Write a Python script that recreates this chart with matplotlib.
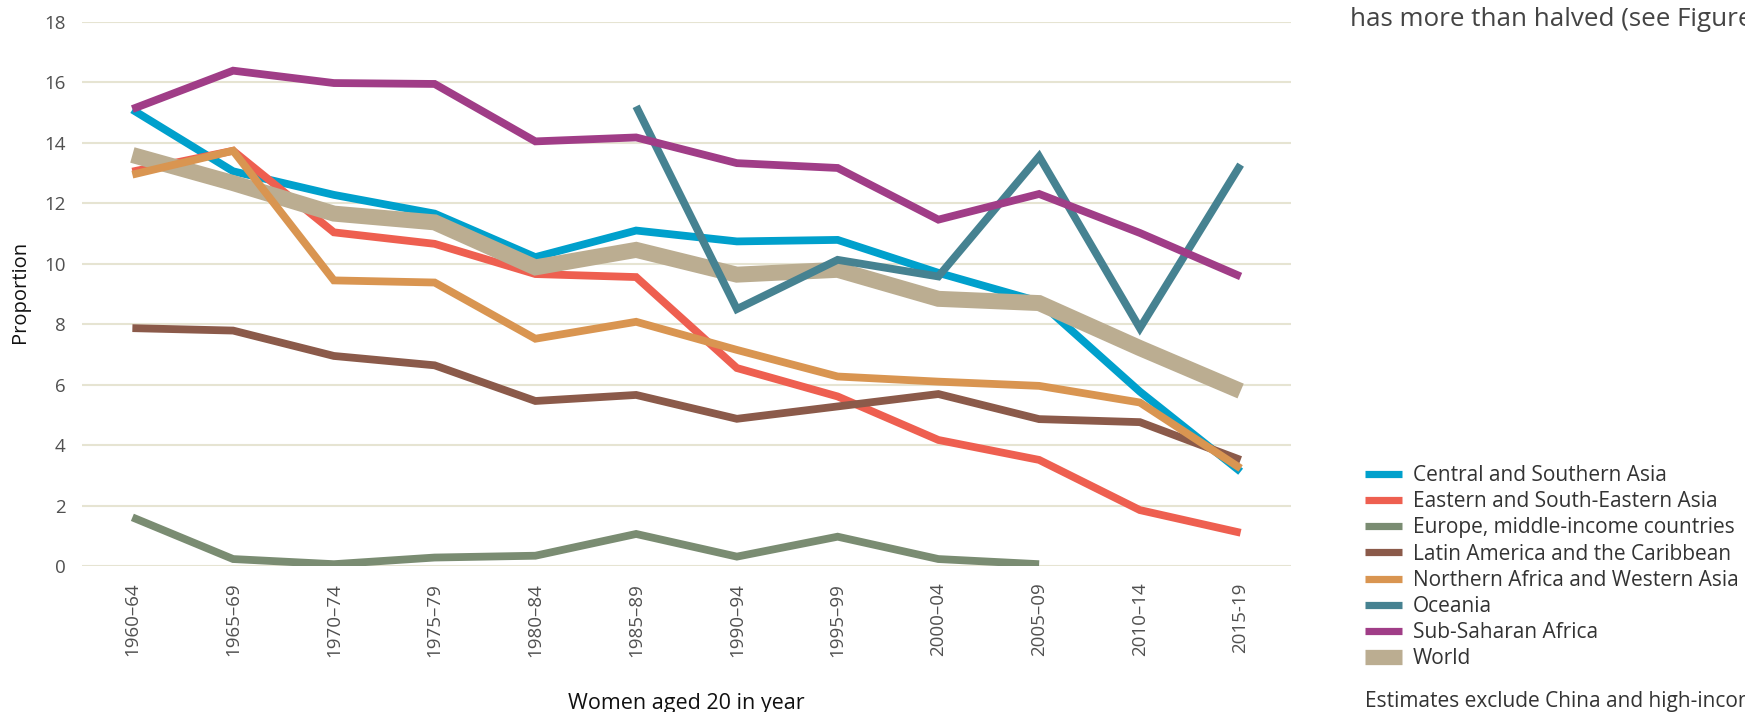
import numpy as np
import matplotlib
matplotlib.use("Agg")
import matplotlib.pyplot as plt

periods = ["1960–64", "1965–69", "1970–74", "1975–79", "1980–84", "1985–89",
           "1990–94", "1995–99", "2000–04", "2005–09", "2010–14", "2015-19"]

central_southern_asia = [15.1, 13.06, 12.28, 11.66, 10.22, 11.1, 10.74, 10.79, 9.7, 8.75, 5.77, 3.12]
eastern_se_asia = [13.05, 13.74, 11.04, 10.66, 9.66, 9.56, 6.55, 5.61, 4.17, 3.51, 1.85, 1.10]
europe_middle = [1.61, 0.23, 0.06, 0.28, 0.34, 1.06, 0.31, 0.97, 0.23, 0.06, np.nan, np.nan]
latin_america = [7.87, 7.79, 6.95, 6.64, 5.46, 5.66, 4.87, 5.28, 5.69, 4.86, 4.76, 3.51]
n_africa_w_asia = [12.95, 13.74, 9.45, 9.38, 7.52, 8.08, 7.15, 6.27, 6.1, 5.96, 5.41, 3.23]
oceania = [np.nan, np.nan, np.nan, np.nan, np.nan, 15.21, 8.5, 10.13, 9.58, 13.55, 7.87, 13.28]
sub_saharan = [15.12, 16.39, 15.98, 15.95, 14.05, 14.18, 13.33, 13.17, 11.46, 12.31, 11.02, 9.58]
world = [13.6, 12.67, 11.66, 11.37, 9.88, 10.46, 9.64, 9.8, 8.84, 8.7, 7.21, 5.79]

series_names = ["Central and Southern Asia", "Eastern and South-Eastern Asia",
                "Europe, middle-income countries", "Latin America and the Caribbean",
                "Northern Africa and Western Asia", "Oceania", "Sub-Saharan Africa", "World"]
series_values = [central_southern_asia, eastern_se_asia, europe_middle, latin_america,
                 n_africa_w_asia, oceania, sub_saharan, world]
colors = ["#00A0CC", "#EE5F50", "#7A8C72", "#8B5A4A", "#D99551", "#468291", "#A03D87", "#BBAD91"]
zorders = [2.0, 2.1, 2.4, 2.4, 2.4, 2.4, 2.4, 2.2]

plt.rcParams['font.family'] = ['Open Sans', 'DejaVu Sans']

fig = plt.figure(figsize=(17.45, 7.12), dpi=100)
ax = fig.add_axes([82/1745, 1-566/712, (1291-82)/1745, (566-22)/712])

x = np.arange(len(periods))
handles = []
for name, vals, c, z in zip(series_names, series_values, colors, zorders):
    lw = 11.5 if name == "World" else 5.6
    h, = ax.plot(x, vals, color=c, lw=lw, solid_joinstyle='miter', solid_capstyle='butt',
                 label=name, zorder=z)
    handles.append(h)

ax.set_xlim(-0.5, 11.5)
ax.set_ylim(0, 18)
ax.set_yticks(np.arange(0, 19, 2))
ax.set_xticks(x)
ax.set_xticklabels(periods, rotation=90, va='top', ha='center')
ax.tick_params(axis='both', length=0, labelsize=13.5, colors='#505050')
ax.tick_params(axis='y', pad=12)
ax.tick_params(axis='x', pad=12)
for s in ax.spines.values():
    s.set_visible(False)
ax.grid(axis='y', color='#E6E4D2', lw=1.5, zorder=0)
ax.set_axisbelow(True)

fig.text(20/1745, 1-292/712, "Proportion", rotation=90, ha='center', va='center',
         fontsize=14.5, color='#111111')
fig.text(686/1745, 1-703/712, "Women aged 20 in year", ha='center', va='center',
         fontsize=15.5, color='#111111')

leg = fig.legend(handles=handles, loc='upper left', bbox_to_anchor=(1365/1745, 1-465/712),
                 frameon=False, fontsize=15, handlelength=1.78, handletextpad=0.53,
                 labelspacing=0.25, borderaxespad=0, borderpad=0)
for t in leg.get_texts():
    t.set_color('#333333')
for lh, h in zip(leg.get_lines(), handles):
    lh.set_linewidth(11 if h.get_label() == "World" else 5.2)
    lh.set_solid_capstyle('butt')

fig.text(1350/1745, 1-20/712, "has more than halved (see Figure 3).", ha='left', va='center',
         fontsize=18.7, color='#444444')
fig.text(1365/1745, 1-702/712, "Estimates exclude China and high-income countries.",
         ha='left', va='center', fontsize=15, color='#333333')

fig.savefig("out.png", dpi=100)
